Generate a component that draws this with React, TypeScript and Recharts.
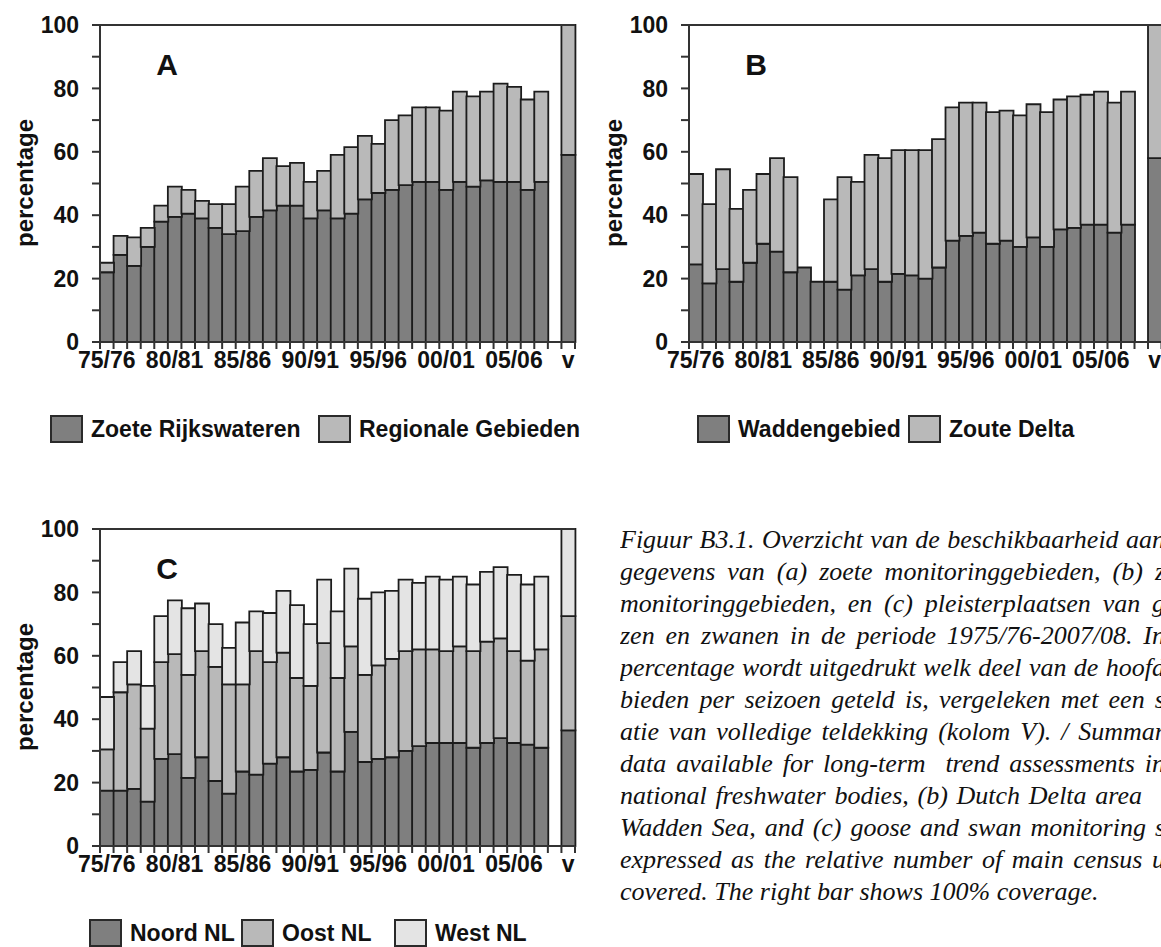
import React from "react";
import { BarChart, Bar, XAxis, YAxis, ReferenceLine } from "recharts";

// seasons 1975/76 - 2007/08, then an empty column and the reference column "v"
const seasons = [
  "75/76", "76/77", "77/78", "78/79", "79/80", "80/81", "81/82", "82/83", "83/84", "84/85",
  "85/86", "86/87", "87/88", "88/89", "89/90", "90/91", "91/92", "92/93", "93/94", "94/95",
  "95/96", "96/97", "97/98", "98/99", "99/00", "00/01", "01/02", "02/03", "03/04", "04/05",
  "05/06", "06/07", "07/08", "", "v",
];
const labelledSeasons = ["75/76", "80/81", "85/86", "90/91", "95/96", "00/01", "05/06", "v"];
const yTicks = [0, 10, 20, 30, 40, 50, 60, 70, 80, 90, 100];

// A: zoete monitoringgebieden (stacked segments)
const zoeteRijkswateren = [
  22, 27.5, 24, 30, 38, 39.5, 40.5, 39, 36, 34, 35, 39.5, 41.5, 43, 43, 39, 41.5,
  39, 40.5, 45, 47, 48, 49.5, 50.5, 50.5, 48, 50.5, 49, 51, 50.5, 50.5, 48, 50.5, null, 59,
];
const regionaleGebieden = [
  3, 6, 9, 6, 5, 9.5, 7.5, 5.5, 7.5, 9.5, 14, 14.5, 16.5, 12.5, 13.5, 11.5, 12.5,
  20, 21, 20, 15.5, 22, 22, 23.5, 23.5, 25, 28.5, 28.5, 28, 31, 30, 28.5, 28.5, null, 41,
];

// B: zoute monitoringgebieden
const waddengebied = [
  24.5, 18.5, 23, 19, 25, 31, 28.5, 22, 23.5, 19, 19, 16.5, 21, 23, 19, 21.5, 21,
  20, 23.5, 32, 33.5, 34.5, 31, 32, 30, 33, 30, 35.5, 36, 37, 37, 34.5, 37, null, 58,
];
const zouteDelta = [
  28.5, 25, 31.5, 23, 23, 22, 29.5, 30, 0, 0, 26, 35.5, 29.5, 36, 39, 39, 39.5,
  40.5, 40.5, 42, 42, 41, 41.5, 41, 41.5, 42, 42.5, 41, 41.5, 41, 42, 41, 42, null, 42,
];

// C: pleisterplaatsen ganzen en zwanen
const noordNL = [
  17.5, 17.5, 18, 14, 27.5, 29, 21.5, 28, 20.5, 16.5, 23.5, 22.5, 26, 28, 23.5, 24, 29.5,
  23.5, 36, 26.5, 27.5, 28, 30, 31.5, 32.5, 32.5, 32.5, 31, 32.5, 34, 32.5, 32, 31, null, 36.5,
];
const oostNL = [
  13, 31, 33, 23, 30.5, 31.5, 32.5, 33.5, 36, 34.5, 27.5, 39, 32, 33, 29.5, 26.5, 34.5,
  29.5, 27, 27.5, 29.5, 31, 31.5, 30.5, 29.5, 29, 30.5, 30.5, 32, 31.5, 29, 26.5, 31, null, 36,
];
const westNL = [
  16.5, 9.5, 10.5, 13.5, 14.5, 17, 21, 15, 13.5, 11.5, 19.5, 12.5, 15.5, 19.5, 23, 19.5, 20,
  21, 24.5, 24, 23, 21.5, 22.5, 21, 23, 22.5, 22, 21, 22, 22.5, 24, 24, 23, null, 27.5,
];

const captionLines = [
  "Figuur B3.1. Overzicht van de beschikbaarheid aan",
  "gegevens van (a) zoete monitoringgebieden, (b) z",
  "monitoringgebieden, en (c) pleisterplaatsen van g",
  "zen en zwanen in de periode 1975/76-2007/08. In",
  "percentage wordt uitgedrukt welk deel van de hoofd",
  "bieden per seizoen geteld is, vergeleken met een s",
  "atie van volledige teldekking (kolom V). / Summar",
  "data available for long-term\u00a0 trend assessments in",
  "national freshwater bodies, (b) Dutch Delta area",
  "Wadden Sea, and (c) goose and swan monitoring s",
  "expressed as the relative number of main census u",
  "covered. The right bar shows 100% coverage.",
];

const DARK = "#7f7f7f";
const MID = "#b9b9b9";
const LIGHT = "#e4e4e4";
const INK = "#111";
const AXIS = "#333";
const SANS = "'Liberation Sans', Arial, sans-serif";

type Series = { key: string; name: string; color: string; values: (number | null)[] };

const SeasonTick = (props: any) => {
  const { x, y, payload } = props;
  const half = payload && payload.offset ? payload.offset : 6.8;
  const axisY = y - 10;
  const label = labelledSeasons.includes(payload.value) ? payload.value : "";
  return (
    <g>
      <line x1={x - half} x2={x - half} y1={axisY} y2={axisY + 7} stroke={AXIS} strokeWidth={2} />
      {payload.value === "v" && (
        <line x1={x + half} x2={x + half} y1={axisY} y2={axisY + 7} stroke={AXIS} strokeWidth={2} />
      )}
      {label && (
        <text x={x} y={axisY + 10} dy="0.71em" textAnchor="middle" fontSize={23} fontWeight={700} fill={INK} fontFamily={SANS}>
          {label}
        </text>
      )}
    </g>
  );
};

interface PanelProps {
  letter: string;
  series: Series[];
  left: number;
  top: number;
  rightMargin: number;
  legendLefts: number[];
}

const Panel: React.FC<PanelProps> = ({ letter, series, left, top, rightMargin, legendLefts }) => {
  const rows = seasons.map((s, i) => {
    const row: any = { season: s };
    series.forEach((se) => {
      row[se.key] = se.values[i];
    });
    return row;
  });

  return (
    <>
      <div style={{ position: "absolute", left, top }}>
        <BarChart
          width={600}
          height={400}
          data={rows}
          margin={{ top: 25, right: rightMargin, left: 0, bottom: 18 }}
          barCategoryGap={0}
          barGap={0}
          style={{ fontFamily: SANS }}
        >
          <XAxis
            dataKey="season"
            interval={0}
            height={40}
            tickSize={7}
            tickMargin={3}
            tickLine={false}
            axisLine={{ stroke: AXIS, strokeWidth: 2 }}
            tick={<SeasonTick />}
          />
          <YAxis
            width={100}
            domain={[0, 100]}
            ticks={yTicks}
            interval={0}
            tickSize={8}
            tickMargin={13}
            axisLine={{ stroke: AXIS, strokeWidth: 2 }}
            tickLine={{ stroke: AXIS, strokeWidth: 2 }}
            tickFormatter={(v: number) => (v % 20 === 0 ? String(v) : "")}
            tick={{ fontSize: 23, fontWeight: 700, fill: INK, fontFamily: SANS }}
          />
          {series.map((se) => (
            <Bar
              key={se.key}
              dataKey={se.key}
              name={se.name}
              stackId="s"
              fill={se.color}
              stroke="#1c1c1c"
              strokeWidth={1.8}
              isAnimationActive={false}
            />
          ))}
          <ReferenceLine y={100} stroke={AXIS} strokeWidth={2} />
        </BarChart>
      </div>

      {/* y axis title */}
      <div
        style={{
          position: "absolute",
          left: left + 25,
          top: top + 183,
          transform: "translate(-50%, -50%) rotate(-90deg)",
          fontFamily: SANS,
          fontWeight: 700,
          fontSize: 24,
          lineHeight: 1,
          whiteSpace: "nowrap",
          color: INK,
        }}
      >
        percentage
      </div>

      {/* panel letter */}
      <div
        style={{
          position: "absolute",
          left: left + 167,
          top: top + 65,
          transform: "translate(-50%, -50%)",
          fontFamily: SANS,
          fontWeight: 700,
          fontSize: 30,
          lineHeight: 1,
          color: INK,
        }}
      >
        {letter}
      </div>

      {/* legend */}
      {series.map((se, i) => (
        <div
          key={se.key}
          style={{
            position: "absolute",
            left: legendLefts[i],
            top: top + 414,
            height: 30,
            display: "flex",
            alignItems: "center",
            fontFamily: SANS,
            fontWeight: 700,
            fontSize: 23,
            lineHeight: 1,
            color: INK,
            whiteSpace: "nowrap",
          }}
        >
          <span
            style={{
              display: "inline-block",
              width: 29,
              height: 24,
              background: se.color,
              border: "2px solid #2a2a2a",
              marginRight: 8,
            }}
          />
          {se.name}
        </div>
      ))}
    </>
  );
};

const App: React.FC = () => {
  const seriesA: Series[] = [
    { key: "zoete", name: "Zoete Rijkswateren", color: DARK, values: zoeteRijkswateren },
    { key: "regionaal", name: "Regionale Gebieden", color: MID, values: regionaleGebieden },
  ];
  const seriesB: Series[] = [
    { key: "wadden", name: "Waddengebied", color: DARK, values: waddengebied },
    { key: "delta", name: "Zoute Delta", color: MID, values: zouteDelta },
  ];
  const seriesC: Series[] = [
    { key: "noord", name: "Noord NL", color: DARK, values: noordNL },
    { key: "oost", name: "Oost NL", color: MID, values: oostNL },
    { key: "west", name: "West NL", color: LIGHT, values: westNL },
  ];

  return (
    <div
      style={{
        position: "absolute",
        left: 0,
        top: 0,
        width: 1161,
        height: 947,
        overflow: "hidden",
        background: "#fff",
      }}
    >
      <Panel letter="A" series={seriesA} left={0} top={0} rightMargin={25} legendLefts={[50, 318]} />
      <Panel letter="B" series={seriesB} left={589} top={0} rightMargin={27.5} legendLefts={[697, 908]} />
      <Panel letter="C" series={seriesC} left={0} top={504} rightMargin={25} legendLefts={[89, 241, 394]} />

      {/* caption; the column runs just past the right edge of the page, as in the original */}
      {captionLines.map((line, i) => {
        const last = i === captionLines.length - 1;
        const width = i === 8 ? 522 : 545;
        return (
          <div
            key={i}
            style={{
              position: "absolute",
              left: 620,
              top: 524 + i * 32,
              width: last ? 600 : width,
              height: 32,
              overflow: "hidden",
              fontFamily: "'Liberation Serif', 'Times New Roman', serif",
              fontStyle: "italic",
              fontSize: 26,
              lineHeight: "32px",
              color: INK,
              textAlign: last ? "left" : "justify",
              textAlignLast: last ? "left" : "justify",
            }}
          >
            {line}
          </div>
        );
      })}
    </div>
  );
};

export default App;
